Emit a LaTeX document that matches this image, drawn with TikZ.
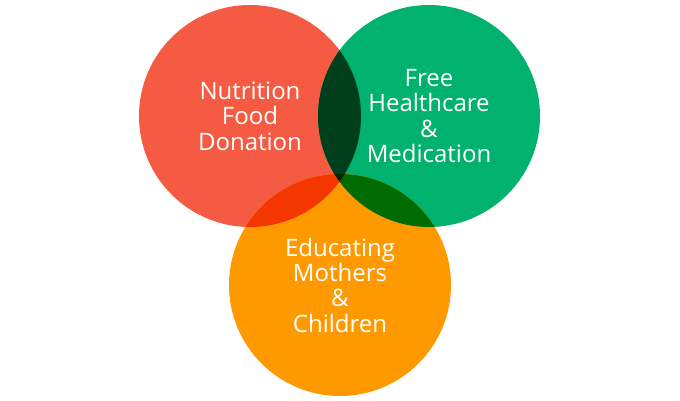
\documentclass[tikz,border=0pt]{standalone}
\usepackage{fontspec}
\setmainfont{Open Sans}
\usepackage{tikz}
\usetikzlibrary{positioning}
\definecolor{VennRed}{HTML}{F55A42}
\definecolor{VennGreen}{HTML}{00B26E}
\definecolor{VennOrange}{HTML}{FF9900}
\definecolor{RedGreen}{HTML}{003F1C}
\definecolor{RedOrange}{HTML}{F43600}
\definecolor{GreenOrange}{HTML}{006B00}
\definecolor{AllThree}{HTML}{002600}

\begin{document}
\begin{tikzpicture}[x=0.75pt, y=-0.75pt,
  circ/.style={circle, inner sep=0pt, minimum size=166.5pt, text=white, align=center, font=\fontsize{18}{19}\selectfont},
  lens/.style={radius=111}]
\fill[white] (0,0) rectangle (680,400);

\node[circ, fill=VennRed] (nutri) at (250,116) {Nutrition\\Food\\Donation};
\node[circ, fill=VennGreen] (health) at (429,116) {Free\\Healthcare\\\&\\Medication};
\node[circ, fill=VennOrange] (educ) at (340,285) {Educating\\Mothers\\\&\\Children};

% overlaps
\begin{scope}
  \clip (health.center) circle[lens];
  \fill[GreenOrange] (educ.center) circle[lens];
\end{scope}
\begin{scope}
  \clip (nutri.center) circle[lens];
  \fill[RedGreen] (health.center) circle[lens];
  \fill[RedOrange] (educ.center) circle[lens];
  \clip (health.center) circle[lens];
  \fill[AllThree] (educ.center) circle[lens];
\end{scope}

\end{tikzpicture}
\end{document}
